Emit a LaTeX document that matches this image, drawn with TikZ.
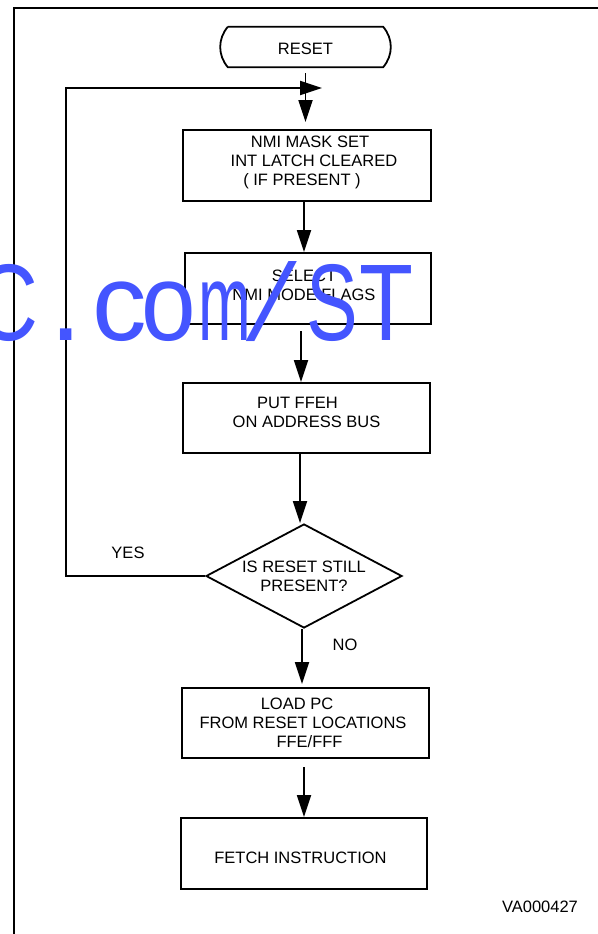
\documentclass[tikz,border=0pt]{standalone}
\usepackage{fontspec}
\setmainfont{Liberation Sans}
\newfontfamily\wmslantfont[FakeSlant=0.26]{Liberation Sans}
\usetikzlibrary{arrows.meta,shapes.geometric}
\definecolor{wmblue}{RGB}{68,85,255}
\begin{document}
\begin{tikzpicture}[x=1pt,y=-1pt,
  pbox/.style={draw,line width=2pt,minimum height=71pt,inner sep=0pt},
  txt/.style={font=\fontsize{16.5}{19}\selectfont,align=center,inner sep=0pt},
  flow/.style={line width=1.8pt,-{Triangle[length=22pt,width=14pt]}},
  wm/.style={anchor=base,inner sep=0pt,text=wmblue,font=\fontsize{109}{109}\selectfont}]
\useasboundingbox (0,0) rectangle (597,934);
\fill[white] (0,0) rectangle (597,934);
% frame
\draw[line width=2.3pt] (14,940) -- (14,8) -- (600,8);
% reset terminal
\node[minimum width=155pt,minimum height=40pt,inner sep=0pt,
  label={[txt,yshift=-1.5pt]center:RESET}] (reset) at (305.5,47) {};
\draw[line width=1.8pt] (reset.north west) -- (reset.north east)
  to[bend left=40] (reset.south east) -- (reset.south west)
  to[bend left=40] (reset.north west);
% boxes
\node[pbox,minimum width=248pt,
  label={[txt,yshift=3.5pt]center:{\hspace*{6pt}NMI MASK SET\\\hspace*{14pt}INT LATCH CLEARED\\( IF PRESENT )\rule{10pt}{0pt}}}] (b1) at (307,165.5) {};
\node[pbox,minimum width=246pt,
  label={[txt,yshift=3.5pt,xshift=-4pt]center:{SELECT\\NMI MODE FLAGS}}] (b2) at (308,288.5) {};
\node[pbox,minimum width=247pt,minimum height=70pt,
  label={[txt,yshift=6pt]center:{PUT FFEH\rule{18pt}{0pt}\\ON ADDRESS BUS}}] (b3) at (306.5,418) {};
\node[draw,shape=diamond,line width=1.8pt,inner sep=0pt,minimum width=196pt,minimum height=104pt,
  label={[txt]center:{IS RESET STILL\\PRESENT?}}] (dia) at (304,576) {};
\node[pbox,minimum width=247pt,minimum height=70pt,
  label={[txt]center:{LOAD PC\rule{17pt}{0pt}\\FROM RESET LOCATIONS\rule{5pt}{0pt}\\\hspace*{8pt}FFE/FFF}}] (b4) at (305.5,723) {};
\node[pbox,minimum width=246pt,
  label={[txt,yshift=-4.5pt,xshift=-3.5pt]center:FETCH INSTRUCTION}] (b5) at (304,853.5) {};
% labels
\node[txt] (yes) at (128,553) {YES};
\node[txt] (no) at (345,645) {NO};
\node[txt] (va) at (540,907) {VA000427};
% connectors
\draw[flow,shorten <=6pt,shorten >=7pt] (reset.south) -- (reset.south |- b1.north);
\draw[flow] ([xshift=-3pt]b1.south) -- ([xshift=-3pt]b1.south |- b2.north);
\draw[flow,shorten <=6pt] ([xshift=-7pt]b2.south) -- ([xshift=-7pt]b2.south |- b3.north);
\draw[flow] ([xshift=-6.5pt]b3.south) -- ([xshift=-6.5pt]b3.south |- dia.north);
\draw[flow,shorten >=3pt] ([xshift=-2pt]dia.south) -- ([xshift=-2pt]dia.south |- b4.north);
\draw[flow,shorten <=8pt] ([xshift=-1.5pt]b4.south) -- ([xshift=-1.5pt]b4.south |- b5.north);
\coordinate (lc) at (66,88);
\coordinate (le) at (322,88);
\draw[flow] (dia.west) -| (lc) -- (le);
% watermark
\node[wm] (wC) at (7,340) {\scalebox{0.8}[1]{C}};
\node[wm] (wdot) at (66,340) {\scalebox{1.1}[1]{.}};
\node[wm] (wc) at (119.5,340) {c};
\node[wm] (wo) at (168.5,340) {\scalebox{0.9}[1]{o}};
\node[wm] (wm) at (224.5,340) {\scalebox{0.58}[1]{m}};
\node[wm] (wsl) at (262,340) {\wmslantfont /};
\node[wm] (wS) at (332.5,340) {\scalebox{0.71}[1]{S}};
\node[wm] (wT) at (386,340) {\scalebox{0.81}[1]{T}};
\end{tikzpicture}
\end{document}
